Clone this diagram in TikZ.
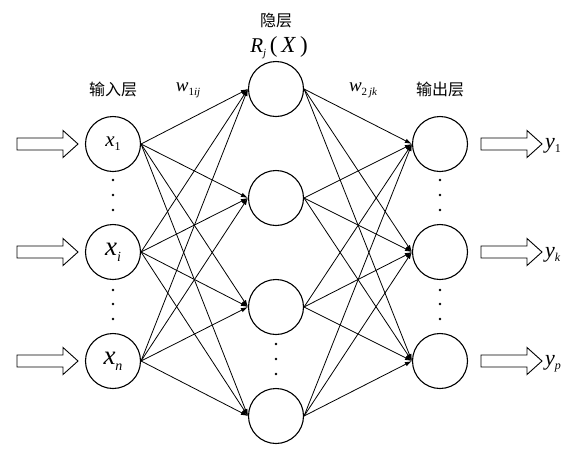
\documentclass[tikz,border=0pt]{standalone}
\usepackage{fontspec}
\setmainfont{Liberation Serif}
\newfontfamily\cjk{Noto Sans CJK SC}
\usetikzlibrary{arrows.meta}
\newcommand{\varsub}[5]{{\fontsize{#1}{#1}\selectfont\itshape #2}\raisebox{-#3pt}{\fontsize{#4}{#4}\selectfont #5}}
\tikzset{
  neuron/.style={circle, draw, line width=1.1pt, minimum size=55pt, inner sep=0pt},
  conn/.style={line width=0.8pt, -{Latex[length=7pt,width=4.5pt]}},
  dotn/.style={circle, fill, inner sep=0pt, minimum size=2.8pt},
  cn/.style={font=\cjk\fontsize{16}{16}\selectfont, inner sep=0pt},
  lbl/.style={inner sep=0pt},
  blockarrow/.pic={\draw[line width=0.9pt, line join=miter] (0,-6) -- (46,-6) -- (46,-13.5) -- (61,0) -- (46,13.5) -- (46,6) -- (0,6) -- cycle;}
}
\begin{document}
\begin{tikzpicture}[x=1pt, y=-1pt]
\useasboundingbox (0,0) rectangle (582,451);
% input layer
\node[neuron] (I1) at (113,144) {\varsub{21}{x}{4}{12}{1}};
\node[neuron] (I2) at (113,252) {\varsub{27}{x}{6}{14}{\itshape i}};
\node[neuron] (I3) at (113,361) {\varsub{27}{x}{6}{14}{\itshape n}};
% hidden layer
\node[neuron] (H1) at (276,89) {};
\node[neuron] (H2) at (276,198) {};
\node[neuron] (H3) at (276,307) {};
\node[neuron] (H4) at (276,416) {};
% output layer
\node[neuron] (O1) at (440,144) {};
\node[neuron] (O2) at (440,252) {};
\node[neuron] (O3) at (440,361) {};
% connections
\foreach \i in {I1,I2,I3}
  \foreach \h in {H1,H2,H3,H4}
    \draw[conn] (\i.east) -- (\h.west);
\foreach \h in {H1,H2,H3,H4}
  \foreach \o in {O1,O2,O3}
    \draw[conn] (\h.east) -- (\o.west);
% dots
\foreach \x in {113,440} {
  \foreach \y in {180,195,210,290,304,319}
    \node[dotn] at (\x,\y) {};
}
\foreach \y in {344,359,374}
  \node[dotn] at (276,\y) {};
% block arrows
\foreach \y in {144,252,361} \pic at (17,\y) {blockarrow};
\foreach \y in {144,252,361} \pic at (481,\y) {blockarrow};
% output labels
\node[lbl, anchor=west] (y1) at (545,146) {\varsub{22}{y}{4}{12}{1}};
\node[lbl, anchor=west] (yk) at (545,255) {\varsub{22}{y}{4}{12}{\itshape k}};
\node[lbl, anchor=west] (yp) at (545,364) {\varsub{22}{y}{4}{12}{\itshape p}};
% titles
\node[cn] (tin) at (113,89) {输入层};
\node[cn] (thid) at (276,21) {隐层};
\node[cn] (tout) at (440,89) {输出层};
\node[lbl] (rj) at (279,48) {\varsub{21}{R}{4}{11}{\itshape j}{\fontsize{23}{23}\selectfont\,(\,\textit{X}\,)}};
\node[lbl] (w1) at (188,90) {\varsub{19}{w}{4}{11}{1\itshape ij}};
\node[lbl] (w2) at (363,90) {\varsub{19}{w}{4}{11}{2\,\itshape jk}};
\end{tikzpicture}
\end{document}
